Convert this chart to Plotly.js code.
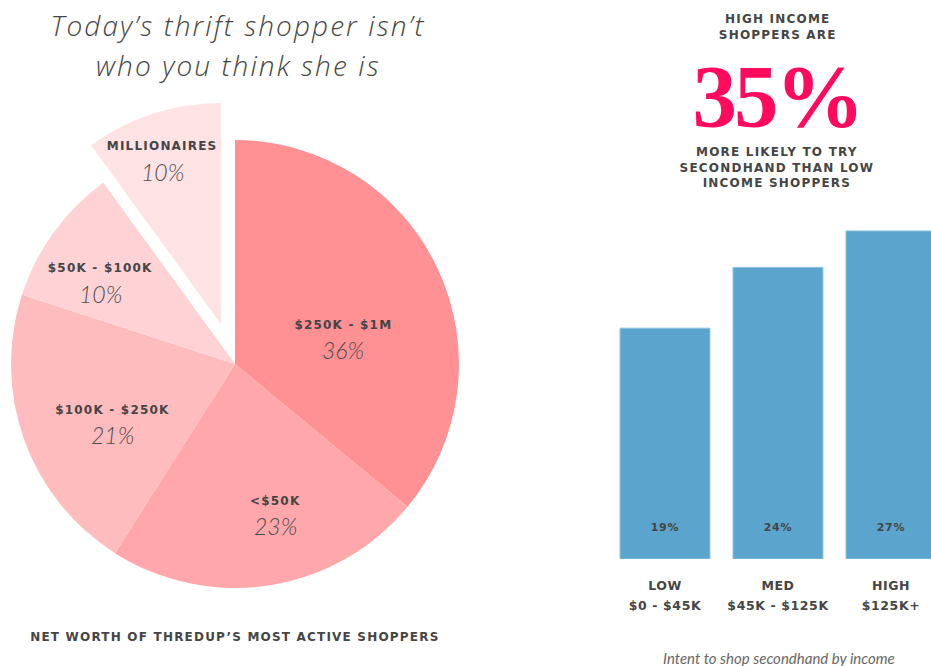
<!DOCTYPE html>
<html>
<head>
<meta charset="utf-8">
<script src="https://cdn.plot.ly/plotly-3.0.1.min.js"></script>
<style>
html,body{margin:0;padding:0;background:#fff;}
#chart{width:931px;height:666px;}
.xtick text{letter-spacing:0.6px;}
.bartext{letter-spacing:0.8px;}
</style>
</head>
<body>
<div id="chart"></div>
<script>
// ---- data ----
const pieLabels = ['$250K - $1M', '<$50K', '$100K - $250K', '$50K - $100K', 'MILLIONAIRES'];
const pieValues = [36, 23, 21, 10, 10];
const pieColors = ['#FF9094', '#FFA7AA', '#FFBCBE', '#FFD3D5', '#FFE2E4'];
const pulledLabel = 'MILLIONAIRES';

const barCategories = ['LOW', 'MED', 'HIGH'];
const barRanges = ['$0 - $45K', '$45K - $125K', '$125K+'];
const barValues = [19, 24, 27];

const titleLines = ["Today’s thrift shopper isn’t", 'who you think she is'];
const pieCaption = 'NET WORTH OF THREDUP’S MOST ACTIVE SHOPPERS';
const statTop = ['HIGH INCOME', 'SHOPPERS ARE'];
const statBig = '35%';
const statBottom = ['MORE LIKELY TO TRY', 'SECONDHAND THAN LOW', 'INCOME SHOPPERS'];
const barCaption = 'Intent to shop secondhand by income';

// ---- layout helpers ----
const W = 931, H = 666;
const px = x => x / W;
const py = y => 1 - y / H;

const labelFont = 'DejaVu Sans';
const textColor = '#454545';

// label placement inside the slices (label line, percent line) in pixels
const pieLabelPos = [[343, 325, 350], [275, 501, 526], [112, 410, 435], [100, 268, 294], [162, 146, 172]];
const titleLineY = [25.5, 64.5];

const mainColors = pieLabels.map((l, i) => l === pulledLabel ? 'rgba(0,0,0,0)' : pieColors[i]);
const pullColors = pieLabels.map((l, i) => l === pulledLabel ? pieColors[i] : 'rgba(0,0,0,0)');

const pieCommon = {
  type: 'pie', labels: pieLabels, values: pieValues, sort: false,
  direction: 'clockwise', rotation: 0, showlegend: false, hoverinfo: 'skip',
  textinfo: 'none'
};

const mainPie = Object.assign({}, pieCommon, {
  marker: {colors: mainColors, line: {width: 0}},
  domain: {x: [px(11), px(459)], y: [py(588), py(140)]}
});
const pulledPie = Object.assign({}, pieCommon, {
  marker: {colors: pullColors, line: {width: 0}},
  domain: {x: [px(0), px(442)], y: [py(546), py(102)]}
});

const bars = {
  type: 'bar', x: barCategories, y: barValues,
  marker: {color: '#5BA4CD', line: {width: 1, color: '#8EC2E2'}},
  texttemplate: '<span style="font-size:11px;font-weight:bold">%{y}%</span><br>&nbsp;',
  textposition: 'inside', insidetextanchor: 'start',
  textfont: {family: labelFont, size: 16, color: textColor},
  hoverinfo: 'skip', showlegend: false, cliponaxis: true,
  xaxis: 'x', yaxis: 'y'
};

const ann = (text, x, y, font) => ({
  text, x: px(x), y: py(y), xref: 'paper', yref: 'paper',
  xanchor: 'center', yanchor: 'middle', showarrow: false, font
});

const boldSmall = {family: labelFont, size: 12, color: textColor, weight: 700};
const pctFont = {family: 'Lato', size: 23, color: '#4d4d4d', style: 'italic', weight: 300};
const titleFont = {family: 'Open Sans', size: 28, color: '#444', style: 'italic', weight: 300};

const annotations = [];
const spaced = [];
const titleIdx = [];
titleLines.forEach((t, i) => {
  titleIdx.push(annotations.length);
  annotations.push(ann(t, 238, titleLineY[i], titleFont));
});
spaced.push(annotations.length); annotations.push(ann(statTop.join('<br>'), 777, 27, boldSmall));
const bigIdx = annotations.length;
annotations.push(ann('<b>' + statBig + '</b>', 777, 96, {family: 'Liberation Serif', size: 89, color: '#FF0A5C', weight: 700}));
spaced.push(annotations.length); annotations.push(ann(statBottom.join('<br>'), 777, 168, boldSmall));
spaced.push(annotations.length); annotations.push(ann(pieCaption, 235, 637, boldSmall));
annotations.push(ann(barCaption, 779, 658, {family: 'Lato', size: 15, color: '#666', style: 'italic'}));

const total = pieValues.reduce((a, b) => a + b, 0);
pieLabels.forEach((l, i) => {
  const p = pieLabelPos[i];
  spaced.push(annotations.length);
  annotations.push(ann(l, p[0], p[1], boldSmall));
  annotations.push(ann(Math.round(pieValues[i] / total * 100) + '%', p[0], p[2], pctFont));
});

// letter spacing for the small caps-style labels, the title and the big figure
let css = spaced.map(i => '.annotation[data-index="' + i + '"] text{letter-spacing:1.2px;}').join('\n');
css += '\n' + titleIdx.map(i => '.annotation[data-index="' + i + '"] text{letter-spacing:2.1px;}').join('\n');
css += '\n.annotation[data-index="' + bigIdx + '"] text{letter-spacing:-3px;}';
const st = document.createElement('style'); st.textContent = css; document.head.appendChild(st);

const layout = {
  width: W, height: H, margin: {l: 0, r: 0, t: 0, b: 0},
  paper_bgcolor: '#fff', plot_bgcolor: 'rgba(0,0,0,0)',
  bargap: 0.204,
  xaxis: {
    domain: [px(608.5), 1], range: [-0.5, 2.354],
    tickvals: barCategories,
    ticktext: barCategories.map((c, i) => '<span style="font-size:12.5px;font-weight:bold">' + c + '</span><br><span style="font-size:12.5px;font-weight:bold">' + barRanges[i] + '</span>'),
    ticks: '', showgrid: false, zeroline: false, showline: false,
    tickfont: {family: labelFont, size: 15.5, color: textColor},
    ticklabelstandoff: 14, fixedrange: true
  },
  yaxis: {
    domain: [py(559), py(559 - 30 * 12.15)], range: [0, 30],
    visible: false, fixedrange: true
  },
  annotations
};

Plotly.newPlot('chart', [mainPie, pulledPie, bars], layout, {displayModeBar: false, staticPlot: true});
</script>
</body>
</html>
